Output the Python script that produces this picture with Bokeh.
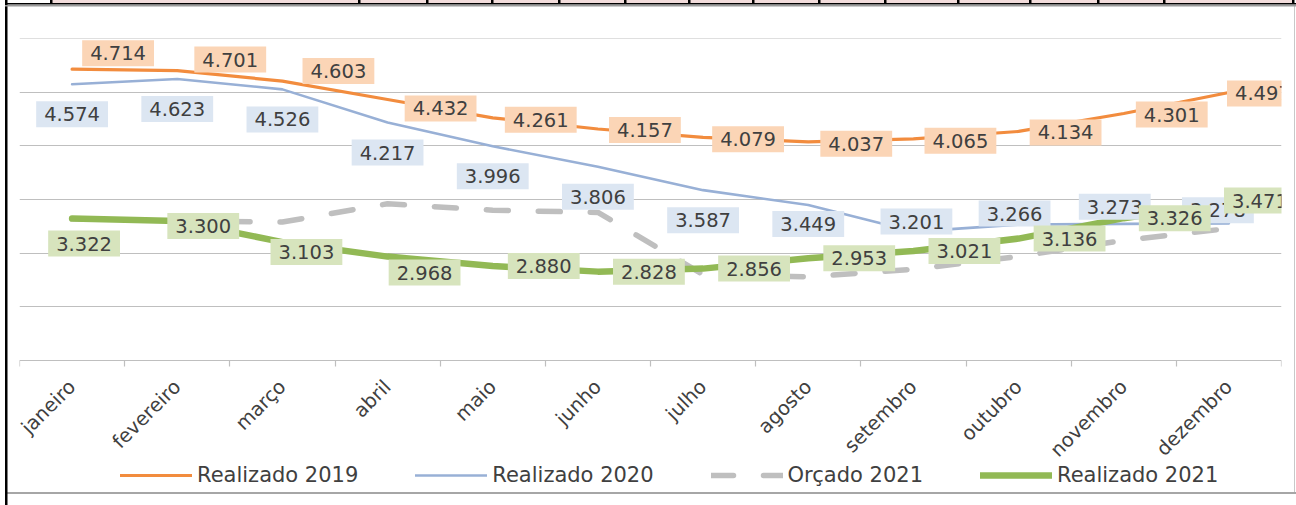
import math
from bokeh.plotting import figure
from bokeh.models import Range1d, FixedTicker, Label, Legend, LegendItem, Span
from bokeh.embed import file_html
from bokeh.resources import INLINE

months = ["janeiro", "fevereiro", "março", "abril", "maio", "junho", "julho",
          "agosto", "setembro", "outubro", "novembro", "dezembro"]
realizado_2019 = [4.714, 4.701, 4.603, 4.432, 4.261, 4.157, 4.079, 4.037, 4.065, 4.134, 4.301, 4.497]
realizado_2020 = [4.574, 4.623, 4.526, 4.217, 3.996, 3.806, 3.587, 3.449, 3.201, 3.266, 3.273, 3.278]
orcado_2021 = [3.32, 3.30, 3.29, 3.46, 3.40, 3.38, 2.80, 2.78, 2.85, 2.97, 3.12, 3.23]
realizado_2021 = [3.322, 3.300, 3.103, 2.968, 2.880, 2.828, 2.856, 2.953, 3.021, 3.136, 3.326, 3.471]

# data-label offsets in screen pixels (dx right, dy down)
off_2019 = [(46, -16), (53, -11), (56, -10), (53, 9), (48, 2), (47, 1), (45, 2), (48, 2), (47, 2), (47, 1), (48, 1), (34, 1)]
off_2020 = [(0, 30)] * 7 + [(0, 19), (3, -10), (-4, -11), (-9, -17), (-11, -13)]
off_2021 = [(12, 25), (26, 5), (24, 10), (37, 16)] + [(51, 0)] * 7 + [(31, -2)]

FONT = "DejaVu Sans"
TXT = "#404040"

xs = [i + 0.5 for i in range(len(months))]


# page decoration (spreadsheet frame around the chart) as CSS background layers
def bar(color, x, y, w, h):
    return f"linear-gradient({color},{color}) {x}px {y}px / {w}px {h}px no-repeat"


cell_edges = [50, 358, 426, 491, 558, 624, 688, 752, 818, 884, 957, 1029, 1097, 1163, 1292]
layers = [bar("#000", e, 0, 2.5, 4) for e in cell_edges]
layers += [
    bar("#F2DCDB", 52, 0, 1241, 3),
    bar("#000", 5, 3, 1291, 1.5),
    bar("#9A9A9A", 5, 4.5, 1291, 1.5),
    bar("#000", 5, 0, 2.5, 505),
    bar("#A6A6A6", 5, 491.5, 1291, 2),
    bar("#C8C8C8", 1294, 6, 1, 487),
]
bg_css = ", ".join(layers) + ", white"

# plot area: value 5.0 at the top, 2.0 on the category axis; the frame reaches
# the bottom of the canvas so the legend can sit inside it
TOP, AXIS_Y, H = 38, 360, 505
y_lo = 2.0 - 3.0 * (H - AXIS_Y) / (AXIS_Y - TOP)

p = figure(width=1296, height=505, output_backend="svg", toolbar_location=None,
           x_range=Range1d(0, 12), y_range=Range1d(y_lo, 5.0), y_axis_location=None,
           min_border_left=19, min_border_right=15, min_border_top=TOP, min_border_bottom=0,
           styles={"background": bg_css})
p.outline_line_color = None
p.background_fill_alpha = 0
p.border_fill_alpha = 0

p.xgrid.grid_line_color = None
p.ygrid.ticker = FixedTicker(ticks=[2.5, 3.0, 3.5, 4.0, 4.5])
p.ygrid.grid_line_color = "#BFBFBF"
p.ygrid.grid_line_width = 1.2
p.add_layout(Span(location=5.0, dimension="width", line_color="#BFBFBF", line_width=1.2))

ax = p.xaxis[0]
ax.fixed_location = 2.0
ax.ticker = FixedTicker(ticks=xs, minor_ticks=list(range(13)))
ax.major_label_overrides = {x: m for x, m in zip(xs, months)}
ax.major_tick_line_color = None
ax.major_tick_out = 0
ax.major_tick_in = 0
ax.minor_tick_line_color = "#BFBFBF"
ax.minor_tick_line_width = 1.2
ax.minor_tick_out = 6
ax.minor_tick_in = 0
ax.axis_line_color = "#BFBFBF"
ax.axis_line_width = 1.2
ax.major_label_orientation = math.pi / 4
ax.major_label_standoff = 17
ax.major_label_text_font = FONT
ax.major_label_text_font_size = "19.5px"
ax.major_label_text_color = TXT

r19 = p.line(xs, realizado_2019, line_color="#F28C3E", line_width=3.2, line_join="round", line_cap="round")
r20 = p.line(xs, realizado_2020, line_color="#98B0D6", line_width=2.6, line_join="round", line_cap="round")
ro21 = p.line(xs, orcado_2021, line_color="#BFBFBF", line_width=5.5, line_dash="22 30",
              line_join="round", line_cap="round")
r21 = p.line(xs, realizado_2021, line_color="#92B955", line_width=6.5, line_join="round", line_cap="round")


def add_labels(values, offsets, bg):
    for x, v, (dx, dy) in zip(xs, values, offsets):
        p.add_layout(Label(x=x, y=v, text=f"{v:.3f}", x_offset=dx, y_offset=-dy,
                           text_align="center", text_baseline="middle",
                           text_font=FONT, text_font_size="19.5px", text_color=TXT,
                           background_fill_color=bg, background_fill_alpha=1.0,
                           padding=dict(left=8, right=8, top=6, bottom=6)))


add_labels(realizado_2019, off_2019, "#FBD5B6")
add_labels(realizado_2020, off_2020, "#DCE6F2")
add_labels(realizado_2021, off_2021, "#D7E4BD")

legend = Legend(items=[LegendItem(label="Realizado 2019", renderers=[r19]),
                       LegendItem(label="Realizado 2020", renderers=[r20]),
                       LegendItem(label="Orçado 2021", renderers=[ro21]),
                       LegendItem(label="Realizado 2021", renderers=[r21])],
                location=(101, 18), orientation="horizontal",
                glyph_width=72, glyph_height=20, label_standoff=5, spacing=57,
                padding=0, margin=0, border_line_color=None, background_fill_alpha=0,
                label_text_font=FONT, label_text_font_size="21px", label_text_color=TXT)
p.add_layout(legend, "center")

open("out.html", "w").write(file_html(p, INLINE))
